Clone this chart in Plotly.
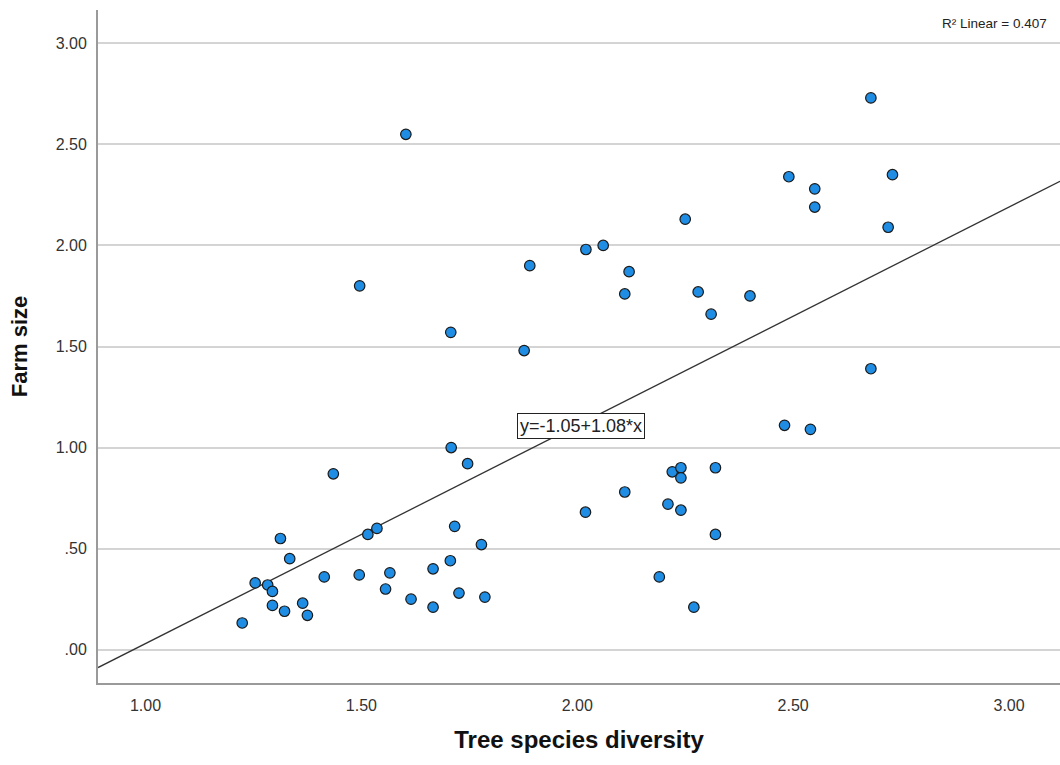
import plotly.graph_objects as go

# Data
diversity = [1.224, 1.254, 1.283, 1.294, 1.294, 1.322, 1.334, 1.3125, 1.364, 1.375,
             1.414, 1.435, 1.495, 1.515, 1.536, 1.556, 1.566, 1.615, 1.666, 1.666,
             1.706, 1.716, 1.726, 1.708, 1.746, 1.778, 1.786, 2.019, 2.11, 2.19,
             2.21, 2.22, 2.24, 2.24, 2.24, 2.27, 2.32, 2.32, 2.48, 2.54, 2.68,
             1.603, 1.496, 1.707, 1.877, 1.89, 2.02, 2.06, 2.25, 2.12, 2.11,
             2.28, 2.40, 2.31, 2.68, 2.49, 2.55, 2.55, 2.73, 2.72]
farm_size = [0.132, 0.33, 0.32, 0.288, 0.219, 0.19, 0.45, 0.55, 0.23, 0.17,
             0.36, 0.87, 0.37, 0.57, 0.60, 0.30, 0.38, 0.25, 0.40, 0.21,
             0.44, 0.61, 0.28, 1.00, 0.92, 0.52, 0.26, 0.68, 0.78, 0.36,
             0.72, 0.88, 0.90, 0.85, 0.69, 0.21, 0.90, 0.57, 1.11, 1.09, 1.39,
             2.55, 1.80, 1.57, 1.48, 1.90, 1.98, 2.00, 2.13, 1.87, 1.76,
             1.77, 1.75, 1.66, 2.73, 2.34, 2.28, 2.19, 2.35, 2.09]

intercept = -1.05
slope = 1.08
r2 = 0.407

x_range = [0.89, 3.118]
y_range = [-0.165, 3.165]

x_ticks = [1.0, 1.5, 2.0, 2.5, 3.0]
x_ticktext = ["1.00", "1.50", "2.00", "2.50", "3.00"]
y_ticks = [0.0, 0.5, 1.0, 1.5, 2.0, 2.5, 3.0]
y_ticktext = [".00", ".50", "1.00", "1.50", "2.00", "2.50", "3.00"]

FONT = "Liberation Sans, Arial, sans-serif"

fig = go.Figure()

fit_x = [x_range[0], x_range[1]]
fit_y = [intercept + slope * v for v in fit_x]
fig.add_trace(go.Scatter(x=fit_x, y=fit_y, mode="lines",
                         line=dict(color="#333333", width=1.3),
                         hoverinfo="skip", showlegend=False))

fig.add_trace(go.Scatter(x=diversity, y=farm_size, mode="markers",
                         marker=dict(size=10.5, color="#1E8DE3",
                                     line=dict(color="#1a1a1a", width=1.2)),
                         showlegend=False))

fig.add_annotation(x=2.008, y=1.108, xref="x", yref="y",
                   text="y=-1.05+1.08*x", showarrow=False,
                   font=dict(family=FONT, size=18, color="#222222"),
                   bgcolor="white", bordercolor="#222222", borderwidth=1, borderpad=2)

fig.add_annotation(x=1.0, y=1.0, xref="paper", yref="paper",
                   xanchor="right", yanchor="top", xshift=-11, yshift=-4,
                   text="R² Linear = %.3f" % r2, showarrow=False,
                   font=dict(family=FONT, size=13.5, color="#222222"))

fig.update_layout(
    width=1060, height=765,
    margin=dict(l=98, r=0, t=10, b=82),
    paper_bgcolor="white", plot_bgcolor="white",
    font=dict(family=FONT, color="#333333"),
    xaxis=dict(range=x_range, tickvals=x_ticks, ticktext=x_ticktext,
               showgrid=False, zeroline=False,
               showline=True, linecolor="#9a9a9a", linewidth=2,
               ticks="", ticklabelstandoff=7,
               tickfont=dict(size=16, color="#333333"),
               title=dict(text="<b>Tree species diversity</b>",
                          font=dict(size=24, color="#111111"), standoff=18)),
    yaxis=dict(range=y_range, tickvals=y_ticks, ticktext=y_ticktext,
               showgrid=True, gridcolor="#d4d4d4", gridwidth=2, zeroline=False,
               showline=True, linecolor="#9a9a9a", linewidth=2,
               ticks="", ticklabelstandoff=6,
               tickfont=dict(size=16, color="#333333"),
               title=dict(text="<b>Farm size</b>",
                          font=dict(size=22, color="#111111"), standoff=22)),
)

fig.write_html("out.html")
